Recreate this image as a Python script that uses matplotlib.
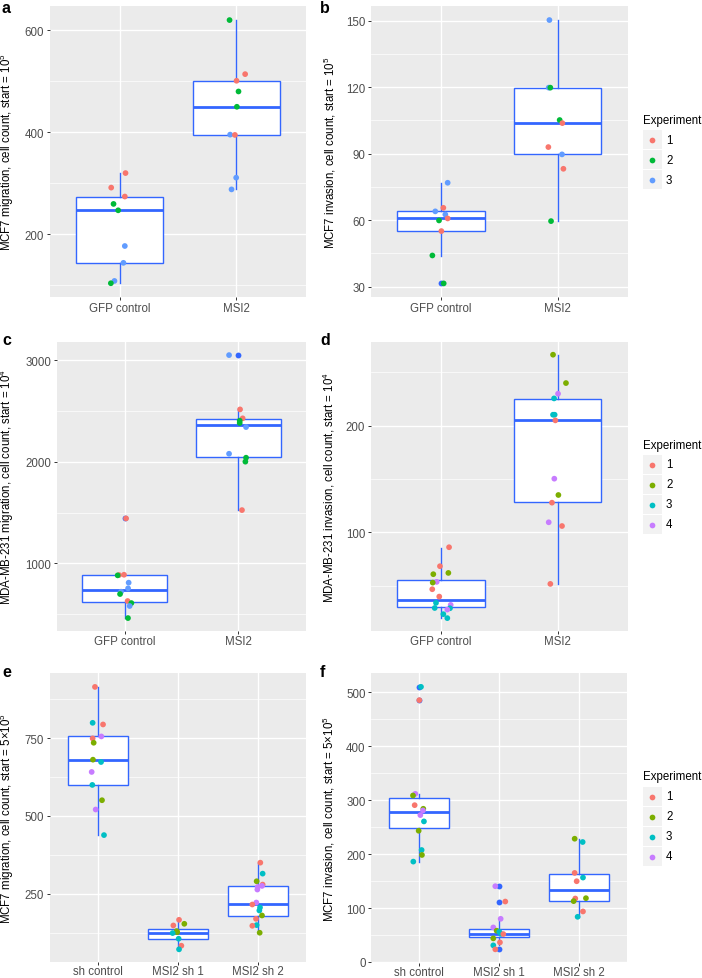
import matplotlib

matplotlib.use("Agg")
import matplotlib.pyplot as plt
from matplotlib.patches import Rectangle

W, H = 702, 979

plt.rcParams["font.family"] = ["Liberation Sans", "DejaVu Sans"]
plt.rcParams["mathtext.default"] = "regular"

PANEL_BG = "#EBEBEB"
BOX_BLUE = "#3366FF"
TICK_INK = "#333333"
LABEL_INK = "#4D4D4D"
KEY_BG = "#F2F2F2"

TEXT_SIZE = 8.3

PAL3 = ["#F8766D", "#00BA38", "#619CFF"]
PAL4 = ["#F8766D", "#7CAE00", "#00BFC4", "#C77CFF"]

GROUPS_2 = ["GFP control", "MSI2"]
GROUPS_3 = ["sh control", "MSI2 sh 1", "MSI2 sh 2"]

# ---------------------------------------------------------------------------
# data: per group values, experiment id, jitter offset;
# box stats are (lower whisker, q1, median, q3, upper whisker)
# ---------------------------------------------------------------------------

# a: MCF7 migration
A_VALUES = [[320, 291.5, 274, 259.5, 247, 177, 144, 108.5, 104],
            [620, 514, 501, 480, 450, 395.4, 394.8, 311, 288]]
A_EXP = [[1, 1, 1, 2, 2, 3, 3, 3, 2],
         [2, 1, 1, 2, 2, 3, 1, 3, 3]]
A_JITTER = [[0.049, -0.074, 0.043, -0.054, -0.014, 0.043, 0.031, -0.046, -0.077],
            [-0.057, 0.077, 0.003, 0.02, 0.006, -0.052, -0.011, 0.0, -0.04]]
A_BOX = [(104, 144, 247, 274, 320), (288, 394.8, 450.3, 500.7, 620)]
A_OUT = [[], []]

# b: MCF7 invasion
B_VALUES = [[76.9, 65.6, 64.0, 62.6, 60.8, 59.9, 55.1, 44.1, 31.5],
            [150.3, 119.8, 119.8, 105.2, 103.8, 93.0, 89.7, 83.2, 59.6]]
B_EXP = [[3, 1, 3, 3, 1, 2, 1, 2, 2],
         [3, 3, 2, 2, 1, 1, 3, 1, 2]]
B_JITTER = [[0.057, 0.02, -0.049, 0.037, 0.057, -0.017, 0.003, -0.074, 0.023],
            [-0.071, -0.077, -0.063, 0.017, 0.04, -0.08, 0.037, 0.049, -0.057]]
B_BOX = [(44, 55, 61, 64, 77), (59.6, 89.7, 103.8, 119.8, 150.3)]
B_OUT = [[31.9], []]

# c: MDA-MB-231 migration
C_VALUES = [[1443, 888, 885, 882, 810, 754, 721, 698, 629, 609, 580, 461],
            [3052, 2517, 2429, 2406, 2383, 2343, 2080, 2041, 2002, 1525]]
C_EXP = [[1, 1, 1, 2, 3, 3, 3, 2, 1, 2, 3, 2],
         [3, 1, 1, 2, 2, 3, 3, 2, 2, 1]]
C_JITTER = [[0.012, -0.006, -0.05, -0.062, 0.035, 0.03, -0.032, -0.041, 0.026, 0.059, 0.044, 0.029],
            [-0.079, 0.018, 0.041, 0.015, 0.015, 0.071, -0.079, 0.071, 0.065, 0.035]]
C_BOX = [(461, 619, 737, 882, 888), (1525, 2051, 2363, 2419, 2517)]
C_OUT = [[1443], [3052]]

# d: MDA-MB-231 invasion
D_VALUES = [[86, 68.2, 61.9, 60.7, 53.5, 52.8, 46.6, 39.7, 33.8, 31.9, 29, 28.8, 27.5, 23.2, 19.5],
            [266.6, 240, 230, 225.6, 210.3, 210.3, 205, 150.3, 135, 127.8, 109.4, 105.9, 51.6]]
D_EXP = [[1, 1, 2, 2, 4, 2, 1, 1, 3, 4, 3, 3, 4, 3, 3],
         [2, 2, 4, 3, 3, 3, 1, 4, 2, 1, 4, 1, 1]]
D_JITTER = [[0.069, -0.009, 0.063, -0.066, -0.037, -0.071, -0.075, -0.015, -0.043, 0.083, -0.054, 0.077, 0.054, 0.02, 0.054],
            [-0.04, 0.071, 0.003, -0.031, -0.04, -0.026, -0.02, -0.029, 0.006, -0.049, -0.077, 0.037, -0.063]]
D_BOX = [(19.5, 29.7, 36.6, 55.3, 85.6), (51.6, 128.1, 205, 225, 266.6)]
D_OUT = [[], []]

# e: MCF7 migration, knockdown
E_VALUES = [[914.2, 799, 793.7, 755.3, 749, 735, 680.7, 673.2, 641.3, 599.7, 550.6, 520.8, 438.7],
            [166.8, 154, 148.7, 130.6, 127, 124.2, 106.1, 83.7, 72],
            [350.2, 315, 290.5, 279.9, 275.6, 272.4, 263.9, 222.3, 215.9, 206.3, 196.7, 180.7, 170, 149.8, 147.6, 125.3]]
E_EXP = [[1, 3, 1, 4, 1, 2, 2, 3, 4, 3, 2, 4, 3],
         [1, 2, 1, 2, 2, 3, 3, 1, 3],
         [1, 3, 2, 1, 4, 4, 4, 4, 1, 3, 3, 2, 1, 3, 1, 2]]
E_JITTER = [[-0.038, -0.067, 0.063, 0.042, -0.067, -0.054, -0.063, 0.038, -0.079, -0.071, 0.05, -0.029, 0.075],
            [0.013, 0.079, -0.058, -0.017, -0.01, -0.067, 0.008, 0.042, 0.013],
            [0.029, 0.058, -0.017, 0.058, 0.05, -0.004, -0.008, -0.021, -0.071, 0.025, 0.017, 0.05, -0.025, -0.017, -0.071, 0.021]]
E_BOX = [(438.7, 599.7, 680.7, 755.3, 914.2), (72, 106.1, 124.2, 136, 166.8), (125.3, 177.5, 218, 276.6, 350.2)]
E_OUT = [[], [], []]

# f: MCF7 invasion, knockdown
F_VALUES = [[509.9, 485.2, 311.6, 308.5, 290.6, 283.9, 280.8, 272.2, 260.5, 243.2, 207.5, 198.3, 186],
            [140.4, 112, 80, 64, 57.9, 56, 52, 51.7, 43.7, 36.3, 30.8, 23.4],
            [228.4, 222.3, 165, 156.4, 149.6, 118.2, 117.6, 112.7, 93.6, 83.7]]
F_EXP = [[3, 1, 4, 2, 1, 2, 4, 4, 3, 2, 3, 2, 3],
         [4, 1, 4, 4, 2, 3, 3, 1, 2, 1, 3, 1],
         [2, 3, 1, 3, 1, 2, 1, 2, 1, 3]]
F_JITTER = [[0.021, 0.0, -0.05, -0.079, -0.058, 0.05, 0.046, 0.013, 0.058, -0.008, 0.029, 0.033, -0.075],
            [-0.05, 0.075, 0.017, -0.075, -0.033, 0.0, 0.02, 0.05, -0.075, 0.008, -0.075, -0.05],
            [-0.058, 0.042, -0.058, 0.046, -0.033, 0.083, -0.05, -0.071, 0.046, -0.021]]
F_BOX = [(186, 247.5, 277.7, 303, 311), (30.8, 46.2, 52.3, 61, 80), (83.7, 113.9, 134.2, 162.6, 227.2)]
F_OUT = [[509.9, 485.2], [140.4, 112, 23.4], []]

# panel specs: (letter, rect px (left, top, right, bottom), ylabel, groups, ylim,
#               major, minor, palette, x tick pad)
PANELS = [
    ("a", (50, 7.3, 306, 297.7), "MCF7 migration, cell count, start = 10$^{5}$", GROUPS_2,
     (77.6, 647), [200, 400, 600], [100, 300, 500], PAL3, 1.8,
     A_VALUES, A_EXP, A_JITTER, A_BOX, A_OUT),
    ("b", (371, 7.3, 627.7, 297.7), "MCF7 invasion, cell count, start = 10$^{5}$", GROUPS_2,
     (25.5, 156.5), [30, 60, 90, 120, 150], [45, 75, 105, 135], PAL3, 1.8,
     B_VALUES, B_EXP, B_JITTER, B_BOX, B_OUT),
    ("c", (56.7, 342.7, 306, 631.7), "MDA-MB-231 migration, cell count, start = 10$^{4}$", GROUPS_2,
     (336.7, 3184), [1000, 2000, 3000], [500, 1500, 2500], PAL3, 1.0,
     C_VALUES, C_EXP, C_JITTER, C_BOX, C_OUT),
    ("d", (371, 342.7, 627.7, 631.7), "MDA-MB-231 invasion, cell count, start = 10$^{4}$", GROUPS_2,
     (7.7, 278.8), [100, 200], [50, 150, 250], PAL4, 1.0,
     D_VALUES, D_EXP, D_JITTER, D_BOX, D_OUT),
    ("e", (50, 674.3, 306, 963), "MCF7 migration, cell count, start = 5×10$^{5}$", GROUPS_3,
     (31.4, 957.9), [250, 500, 750], [125, 375, 625, 875], PAL4, 0.2,
     E_VALUES, E_EXP, E_JITTER, E_BOX, E_OUT),
    ("f", (371.3, 674.3, 627.3, 963.5), "MCF7 invasion, cell count, start = 5×10$^{5}$", GROUPS_3,
     (-1, 535), [0, 100, 200, 300, 400, 500], [50, 150, 250, 350, 450], PAL4, 0.2,
     F_VALUES, F_EXP, F_JITTER, F_BOX, F_OUT),
]

LETTER_POS = {"a": (2, 13), "b": (320, 13), "c": (2, 345), "d": (320, 345),
              "e": (2, 677), "f": (320, 677)}
YLABEL_X = {"a": 16.5, "b": 338, "c": 16.5, "d": 337, "e": 16.5, "f": 337}

# legends: (left px, title centre y px, first key top px, palette)
LEGENDS = [(643, 121, 131, PAL3), (643, 446, 456, PAL4), (643, 777, 788, PAL4)]


def draw_panel(fig, spec):
    (letter, (x0, y0, x1, y1), ylabel, groups, ylim, major, minor, pal, xpad,
     values, exps, jitter, boxes, outliers) = spec
    ax = fig.add_axes([x0 / W, 1 - y1 / H, (x1 - x0) / W, (y1 - y0) / H])
    ax.set_facecolor(PANEL_BG)
    for s in ax.spines.values():
        s.set_visible(False)

    n = len(groups)
    positions = list(range(1, n + 1))
    stats = []
    for (lo, q1, med, q3, hi), fl in zip(boxes, outliers):
        stats.append(dict(whislo=lo, q1=q1, med=med, q3=q3, whishi=hi, fliers=fl))
    ax.bxp(stats, positions=positions, widths=0.75, patch_artist=True,
           showcaps=False,
           boxprops=dict(facecolor="white", edgecolor=BOX_BLUE, linewidth=1.0),
           medianprops=dict(color=BOX_BLUE, linewidth=2.0),
           whiskerprops=dict(color=BOX_BLUE, linewidth=1.0),
           flierprops=dict(marker="o", markerfacecolor=BOX_BLUE,
                           markeredgecolor="none", markersize=4.2))

    for pos, vals, ex, jit in zip(positions, values, exps, jitter):
        xs = [pos + j for j in jit]
        cs = [pal[e - 1] for e in ex]
        ax.scatter(xs, vals, c=cs, s=17, linewidths=0, zorder=4)

    ax.set_xlim(0.4, n + 0.6)
    ax.set_ylim(*ylim)
    ax.set_xticks(positions)
    ax.set_xticklabels(groups)
    ax.set_yticks(major)
    ax.set_yticks(minor, minor=True)
    ax.set_axisbelow(True)
    ax.grid(True, which="major", color="white", linewidth=1.0)
    ax.grid(True, which="minor", axis="y", color="white", linewidth=0.5)
    ax.tick_params(which="major", direction="out", length=2.3, width=0.7,
                   color=TICK_INK, labelcolor=LABEL_INK, labelsize=TEXT_SIZE, pad=1.8)
    ax.tick_params(axis="x", which="major", pad=xpad)
    ax.tick_params(which="minor", length=0)

    ax.set_ylabel(ylabel, fontsize=TEXT_SIZE, color="black")
    ax.yaxis.set_label_coords(YLABEL_X[letter] / W, 1 - (y0 + y1) / 2 / H,
                              transform=fig.transFigure)

    lx, ly = LETTER_POS[letter]
    fig.text(lx / W, 1 - ly / H, letter, fontsize=11.5, fontweight="bold",
             va="baseline", ha="left")
    return ax


def draw_legends(fig):
    # overlay in pixel coordinates, top-left origin
    lax = fig.add_axes([0, 0, 1, 1], facecolor="none")
    lax.set_xlim(0, W)
    lax.set_ylim(H, 0)
    lax.axis("off")
    for x, title_y, key_top, pal in LEGENDS:
        lax.text(x, title_y, "Experiment", fontsize=TEXT_SIZE, va="center", ha="left")
        for i, col in enumerate(pal):
            top = key_top + 20 * i
            lax.add_patch(Rectangle((x, top), 18.5, 19, facecolor=KEY_BG,
                                    edgecolor="none"))
            lax.scatter([x + 9.25], [top + 9.5], s=17, color=col, linewidths=0)
            lax.text(x + 23, top + 9.5, str(i + 1), fontsize=TEXT_SIZE,
                     va="center", ha="left", color="black")


def main():
    fig = plt.figure(figsize=(W / 100, H / 100), dpi=100)
    for spec in PANELS:
        draw_panel(fig, spec)
    draw_legends(fig)
    fig.savefig("out.png", dpi=100)
    plt.close(fig)


if __name__ == "__main__":
    main()
